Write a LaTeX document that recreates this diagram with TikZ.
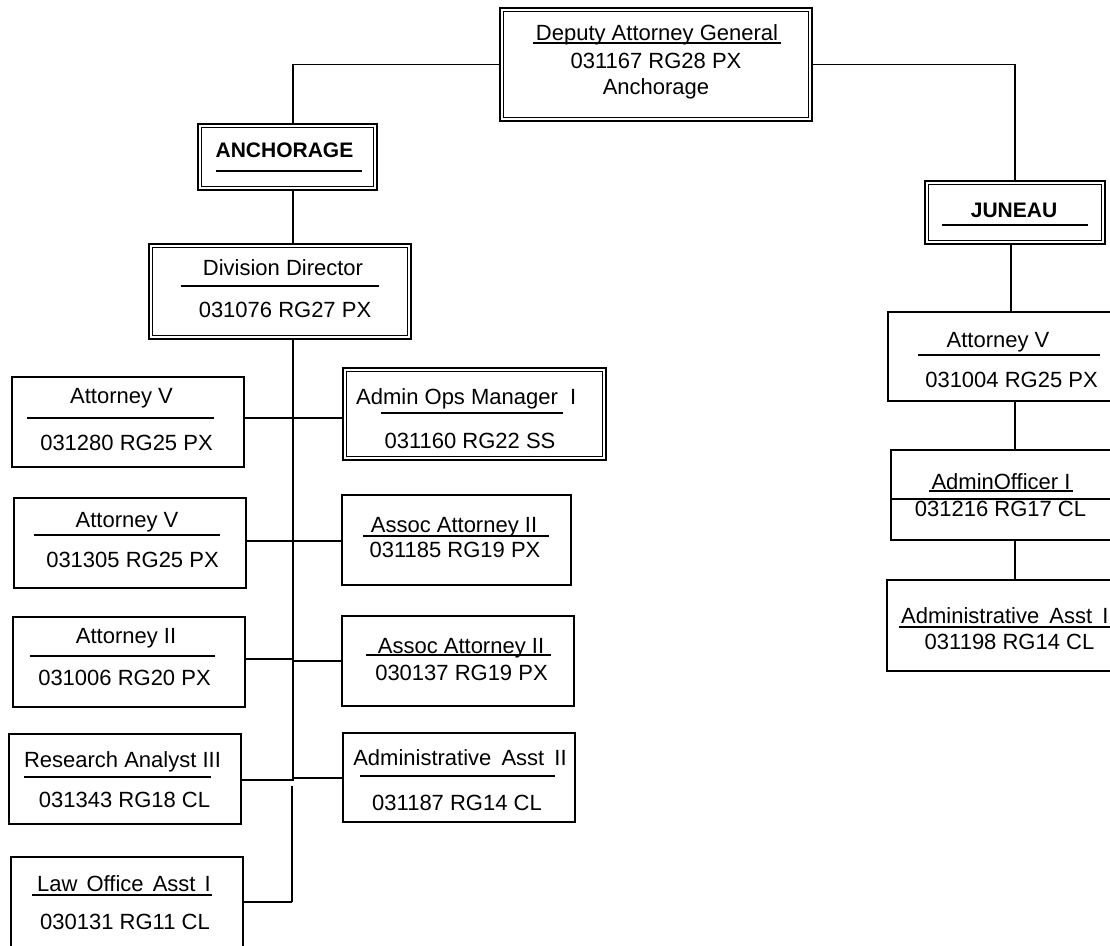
\documentclass[tikz,border=0pt]{standalone}
\usepackage{fontspec}
\setmainfont{Liberation Sans}
\usetikzlibrary{backgrounds}
\tikzset{
  box/.style={draw, line width=1.6pt, fill=white, inner sep=0pt, rectangle},
  dbox/.style={box, double=white, double distance=2.2pt},
  lbl/.style={anchor=base, inner sep=0pt, font=\fontsize{22}{26}\selectfont},
  lblw/.style={lbl, anchor=base west},
  blbl/.style={anchor=base, inner sep=0pt, font=\fontsize{21}{25}\selectfont\bfseries},
  rulel/.style={line width=1.3pt},
  conn/.style={line width=1.2pt},
  trunkl/.style={line width=1.5pt},
}
\begin{document}
\begin{tikzpicture}[x=1pt,y=-1pt]
\useasboundingbox (0,0) rectangle (1110,945);
\clip (0,0) rectangle (1110,945);
% boxes
\node[dbox,minimum width=308.6pt,minimum height=109.6pt] (dag) at (656,64.5) {};
\node[dbox,minimum width=175.6pt,minimum height=62.6pt] (anch) at (287.5,157) {};
\node[dbox,minimum width=258.6pt,minimum height=91.6pt] (dd) at (280,291.5) {};
\node[box,minimum width=232pt,minimum height=90pt] (L1) at (128,422) {};
\node[box,minimum width=232pt,minimum height=90pt] (L2) at (130,543) {};
\node[box,minimum width=232pt,minimum height=90pt] (L3) at (129,662) {};
\node[box,minimum width=232pt,minimum height=90pt] (L4) at (125,779) {};
\node[box,minimum width=232pt,minimum height=90pt] (L5) at (127,902) {};
\node[dbox,minimum width=259.6pt,minimum height=88.6pt] (R1) at (474.5,414) {};
\node[box,minimum width=229pt,minimum height=90pt] (R2) at (456.5,540) {};
\node[box,minimum width=232pt,minimum height=90pt] (R3) at (458,661) {};
\node[box,minimum width=232pt,minimum height=89pt] (R4) at (459,777.5) {};
\node[dbox,minimum width=176.6pt,minimum height=59.6pt] (J) at (1015,212.5) {};
\node[box,minimum width=240pt,minimum height=89pt] (JA) at (1008,356.5) {};
\node[box,minimum width=237pt,minimum height=90pt] (JB) at (1009.5,495) {};
\node[box,minimum width=241pt,minimum height=91pt] (JC) at (1007.5,625.5) {};
% junction coordinates
\coordinate (tx) at (293,0);
\coordinate (rx) at (1015,0);
\coordinate (rx2) at (1011,0);
\coordinate (j1) at (293,418);
\coordinate (j2) at (293,541);
\coordinate (j3a) at (293,659);
\coordinate (j3b) at (293,661);
\coordinate (j4a) at (294,780);
\coordinate (j4b) at (294,778);
\coordinate (k1) at (292,786);
\coordinate (k2) at (292,902);
\begin{scope}[on background layer]
\draw[conn] (dag.west) -| (tx |- anch.north);
\draw[conn] (dag.east) -| (rx |- J.north);
\draw[trunkl] (tx |- anch.south) -- (tx |- dd.north);
\draw[trunkl] (tx |- dd.south) -- (tx |- j4a);
\draw[trunkl] (k1) -- (k2);
\draw[conn] (k2) -- (L5.east |- k2);
\draw[conn] (L1.east |- j1) -- (R1.west |- j1);
\draw[conn] (L2.east |- j2) -- (R2.west |- j2);
\draw[conn] (L3.east |- j3a) -- (j3a);
\draw[conn] (j3b) -- (R3.west |- j3b);
\draw[conn] (L4.east |- j4a) -- (j4a);
\draw[conn] (j4b) -- (R4.west |- j4b);
\draw[conn] (rx2 |- J.south) -- (rx2 |- JA.north);
\draw[conn] (rx |- JA.south) -- (rx |- JB.north);
\draw[conn] (rx |- JB.south) -- (rx |- JC.north);
\end{scope}
% rules
\draw[rulel] (533,43) -- (781,43);
\draw[rulel] (216,171) -- (362,171);
\draw[rulel] (181,286) -- (379,286);
\draw[rulel] (27,418) -- (214,418);
\draw[rulel] (34,535) -- (220,535);
\draw[rulel] (30,656) -- (215,656);
\draw[rulel] (24,777) -- (211,777);
\draw[rulel] (32,895) -- (212,895);
\draw[rulel] (381,413) -- (563,413);
\draw[rulel] (363,536) -- (549,536);
\draw[rulel] (366,655) -- (551,655);
\draw[rulel] (360,776) -- (555,776);
\draw[rulel] (942,225) -- (1088,225);
\draw[rulel] (918,355) -- (1100,355);
\draw[rulel] (929,491) -- (1073,491);
\draw[rulel] (JB.west |- 0,499) -- (1130,499);
\draw[rulel] (899,627) -- (1120,627);
% texts
\node[lbl] (dag1) at (657,40) {Deputy Attorney General};
\node[lbl] (dag2) at (656,68) {031167 RG28 PX};
\node[lbl] (dag3) at (656,94) {Anchorage};
\node[blbl] (anchT) at (284.5,157) {ANCHORAGE};
\node[lbl] (dd1) at (283,275) {Division Director};
\node[lbl] (dd2) at (285,317) {031076 RG27 PX};
\node[lbl] (L1a) at (121.5,403) {Attorney V};
\node[lbl] (L1b) at (126.5,450) {031280 RG25 PX};
\node[lbl] (L2a) at (127,527) {Attorney V};
\node[lbl] (L2b) at (132.5,567) {031305 RG25 PX};
\node[lbl] (L3a) at (126,643) {Attorney II};
\node[lbl] (L3b) at (124.5,685) {031006 RG20 PX};
\node[lbl] (L4a) at (122.5,767) {Research Analyst III};
\node[lbl] (L4b) at (124.5,807) {031343 RG18 CL};
\node[lbl] (L5a) at (124,891) {Law\hspace{3pt} Office\hspace{3pt} Asst\hspace{3pt} I};
\node[lbl] (L5b) at (125,929) {030131 RG11 CL};
\node[lblw] (R1a) at (356,404) {Admin Ops Manager\hspace{6pt} I};
\node[lbl] (R1b) at (470,448) {031160 RG22 SS};
\node[lbl] (R2a) at (454,532) {Assoc Attorney II};
\node[lbl] (R2b) at (455,557) {031185 RG19 PX};
\node[lbl] (R3a) at (461,653) {Assoc Attorney II};
\node[lbl] (R3b) at (461.5,680) {030137 RG19 PX};
\node[lbl] (R4a) at (460,765) {Administrative\hspace{4pt} Asst\hspace{4pt} II};
\node[lbl] (R4b) at (457,810) {031187 RG14 CL};
\node[blbl] (JT) at (1014,217) {JUNEAU};
\node[lbl] (JAa) at (998,347) {Attorney V};
\node[lbl] (JAb) at (1011.5,387) {031004 RG25 PX};
\node[lbl] (JBa) at (1001,489) {AdminOfficer I};
\node[lbl] (JBb) at (1000.5,516) {031216 RG17 CL};
\node[lblw] (JCa) at (901,623) {Administrative\hspace{4pt} Asst\hspace{4pt} I};
\node[lbl] (JCb) at (1009.5,649) {031198 RG14 CL};
\end{tikzpicture}
\end{document}
